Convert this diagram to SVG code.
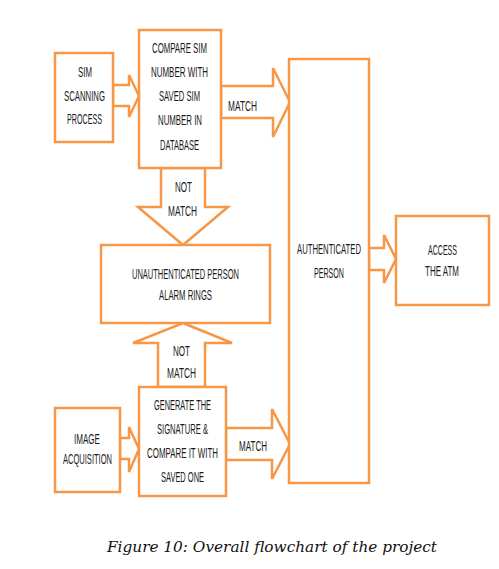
<svg xmlns="http://www.w3.org/2000/svg" width="499" height="569" viewBox="0 0 499 569">
<style>
.box{fill:#fff;stroke:#F79646;stroke-width:2.5}
.arr{fill:#fff;stroke:#F79646;stroke-width:2.5;stroke-linejoin:miter}
.t{font-family:"Liberation Sans Narrow","Liberation Sans",Arial,sans-serif;font-size:14px;fill:#1a1a1a;text-anchor:middle}
.cap{font-family:"DejaVu Serif","Liberation Serif",serif;font-style:italic;font-size:14px;fill:#111}
</style>
<rect width="499" height="569" fill="#fff"/>
<g id="connectors">
<polygon class="arr" points="113,85 129,85 129,75 139,96 129,117 129,106 113,106"/>
<polygon class="arr" points="221,86 273,86 273,68 290,102 273,137 273,118 221,118"/>
<polygon class="arr" points="161,168 205,168 205,207 228,207 183,245 138,207 161,207"/>
<polygon class="arr" points="183,323 232,343 205,343 205,387 158,387 158,343 133,343"/>
<polygon class="arr" points="120,438 129,438 129,427 139,449 129,472 129,459 120,459"/>
<polygon class="arr" points="226,428 272,428 272,409 290,444 272,479 272,460 226,460"/>
<polygon class="arr" points="369,248 384,248 384,235 396,259 384,283 384,270 369,270"/>
<text class="t" x="242.5" y="111" textLength="29" lengthAdjust="spacingAndGlyphs">MATCH</text>
<text class="t" x="183.5" y="192" textLength="17" lengthAdjust="spacingAndGlyphs">NOT</text>
<text class="t" x="182.5" y="216" textLength="29" lengthAdjust="spacingAndGlyphs">MATCH</text>
<text class="t" x="181.5" y="356" textLength="17" lengthAdjust="spacingAndGlyphs">NOT</text>
<text class="t" x="181.5" y="378" textLength="29" lengthAdjust="spacingAndGlyphs">MATCH</text>
<text class="t" x="253" y="451" textLength="28" lengthAdjust="spacingAndGlyphs">MATCH</text>
</g>
<g id="sim">
<rect class="box" x="55" y="53" width="58" height="89"/>
<text class="t" x="85" y="77" textLength="14" lengthAdjust="spacingAndGlyphs">SIM</text>
<text class="t" x="84.5" y="101" textLength="41" lengthAdjust="spacingAndGlyphs">SCANNING</text>
<text class="t" x="84.5" y="124" textLength="35" lengthAdjust="spacingAndGlyphs">PROCESS</text>
</g>
<g id="compare">
<rect class="box" x="139" y="30" width="82" height="138"/>
<text class="t" x="179.5" y="53" textLength="55" lengthAdjust="spacingAndGlyphs">COMPARE SIM</text>
<text class="t" x="179.5" y="77" textLength="57" lengthAdjust="spacingAndGlyphs">NUMBER WITH</text>
<text class="t" x="179.5" y="101" textLength="41" lengthAdjust="spacingAndGlyphs">SAVED SIM</text>
<text class="t" x="180" y="125" textLength="44" lengthAdjust="spacingAndGlyphs">NUMBER IN</text>
<text class="t" x="179.5" y="150" textLength="39" lengthAdjust="spacingAndGlyphs">DATABASE</text>
</g>
<g id="unauth">
<rect class="box" x="101" y="245" width="169" height="78"/>
<text class="t" x="185.5" y="279" textLength="107" lengthAdjust="spacingAndGlyphs">UNAUTHENTICATED PERSON</text>
<text class="t" x="185.5" y="300" textLength="53" lengthAdjust="spacingAndGlyphs">ALARM RINGS</text>
</g>
<g id="image">
<rect class="box" x="55" y="408" width="65" height="84"/>
<text class="t" x="87" y="444" textLength="26" lengthAdjust="spacingAndGlyphs">IMAGE</text>
<text class="t" x="87.5" y="464" textLength="49" lengthAdjust="spacingAndGlyphs">ACQUISITION</text>
</g>
<g id="generate">
<rect class="box" x="139" y="387" width="87" height="109"/>
<text class="t" x="182.5" y="410" textLength="57" lengthAdjust="spacingAndGlyphs">GENERATE THE</text>
<text class="t" x="182.5" y="434" textLength="51" lengthAdjust="spacingAndGlyphs">SIGNATURE &amp;</text>
<text class="t" x="182.5" y="458" textLength="71" lengthAdjust="spacingAndGlyphs">COMPARE IT WITH</text>
<text class="t" x="182.5" y="482" textLength="43" lengthAdjust="spacingAndGlyphs">SAVED ONE</text>
</g>
<g id="auth">
<rect class="box" x="289" y="59" width="80" height="424"/>
<text class="t" x="329" y="254" textLength="64" lengthAdjust="spacingAndGlyphs">AUTHENTICATED</text>
<text class="t" x="329" y="278" textLength="30" lengthAdjust="spacingAndGlyphs">PERSON</text>
</g>
<g id="access">
<rect class="box" x="396" y="216" width="93" height="89"/>
<text class="t" x="442.5" y="255" textLength="29" lengthAdjust="spacingAndGlyphs">ACCESS</text>
<text class="t" x="442" y="276" textLength="34" lengthAdjust="spacingAndGlyphs">THE ATM</text>
</g>
<text class="cap" x="107" y="552" textLength="330" lengthAdjust="spacingAndGlyphs">Figure 10: Overall flowchart of the project</text>
</svg>
